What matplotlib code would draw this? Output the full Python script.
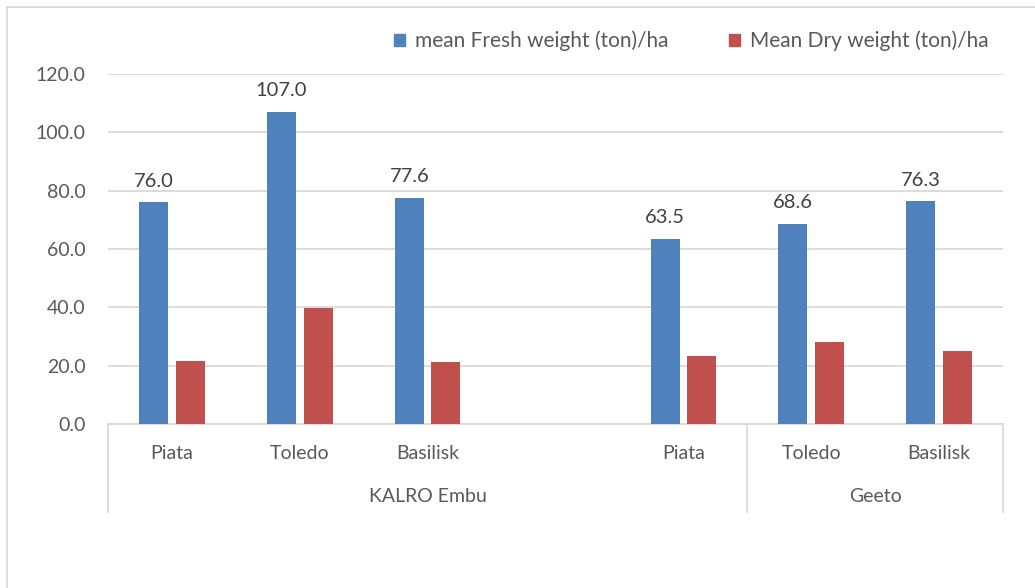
import numpy as np
import matplotlib
matplotlib.use("Agg")
import matplotlib.pyplot as plt
from matplotlib.patches import Rectangle, Patch
import matplotlib.transforms as mtransforms

categories = ["Piata", "Toledo", "Basilisk", "", "Piata", "Toledo", "Basilisk"]
groups = ["KALRO Embu", "Geeto"]
group_spans = [(-0.5, 4.5), (4.5, 6.5)]
fresh = [76.0, 107.0, 77.6, np.nan, 63.5, 68.6, 76.3]
dry = [21.6, 39.7, 21.3, np.nan, 23.2, 28.2, 24.9]
fresh_labels = ["76.0", "107.0", "77.6", "", "63.5", "68.6", "76.3"]
series_names = ["mean Fresh weight (ton)/ha", "Mean Dry weight (ton)/ha"]
yticks = [0, 20, 40, 60, 80, 100, 120]

plt.rcParams['font.family'] = ['Lato', 'DejaVu Sans']
txt = "#595959"
grid_c = "#d9d9d9"
blue = "#4f81bd"
red = "#c0504d"

W, H = 1035, 588
fig = plt.figure(figsize=(W / 100, H / 100), dpi=100)
ax = fig.add_axes([108 / W, 1 - 424 / H, (1003 - 108) / W, (424 - 74) / H])

x = np.arange(len(categories))
bw = 0.227
off = 0.143
ax.bar(x - off, fresh, width=bw, color=blue, zorder=3)
ax.bar(x + off, dry, width=bw, color=red, zorder=3)

for xi, v, lab in zip(x, fresh, fresh_labels):
    if lab:
        ax.annotate(lab, (xi - off, v), xytext=(0, 9), textcoords="offset points",
                    ha="center", va="bottom", fontsize=14.5, color="#404040")

fs = 14
ax.set_xlim(-0.5, len(categories) - 0.5)
ax.set_ylim(0, 120)
ax.set_yticks(yticks)
ax.set_yticklabels([f"{t:.1f}" for t in yticks], fontsize=fs, color=txt)
ax.yaxis.grid(True, color=grid_c, linewidth=1.3, zorder=0)
ax.tick_params(axis="y", length=0, pad=16)
ax.tick_params(axis="x", length=0, pad=15)
ax.set_xticks(x)
ax.set_xticklabels(categories, fontsize=fs, color=txt)
for s in ["top", "right", "left"]:
    ax.spines[s].set_visible(False)
ax.spines["bottom"].set_color(grid_c)
ax.spines["bottom"].set_linewidth(1.3)

trans = mtransforms.blended_transform_factory(ax.transData, ax.transAxes)
ybot = (424 - 512) / 350
bounds = sorted(set([b for span in group_spans for b in span]))
for b in bounds:
    ax.plot([b, b], [0, ybot], transform=trans, color=grid_c, lw=1.3, clip_on=False)
for g, (a, b) in zip(groups, group_spans):
    ax.text((a + b) / 2, (424 - 496) / 350, g, transform=trans, ha="center", va="center",
            fontsize=fs, color=txt)

handles = [Patch(color=blue), Patch(color=red)]
fig.legend(handles, series_names, loc="center right", bbox_to_anchor=(997 / W, 1 - 41 / H),
           ncol=2, frameon=False, fontsize=15, labelcolor=txt, handlelength=0.5,
           handleheight=0.5, handletextpad=0.5, columnspacing=2.9, borderaxespad=0)

fig.patches.append(Rectangle((7 / W, -0.1), 1.2, 1.1 - 7 / H,
                             transform=fig.transFigure, fill=False, edgecolor=grid_c, lw=1.3))

fig.savefig("out.png", dpi=100)
